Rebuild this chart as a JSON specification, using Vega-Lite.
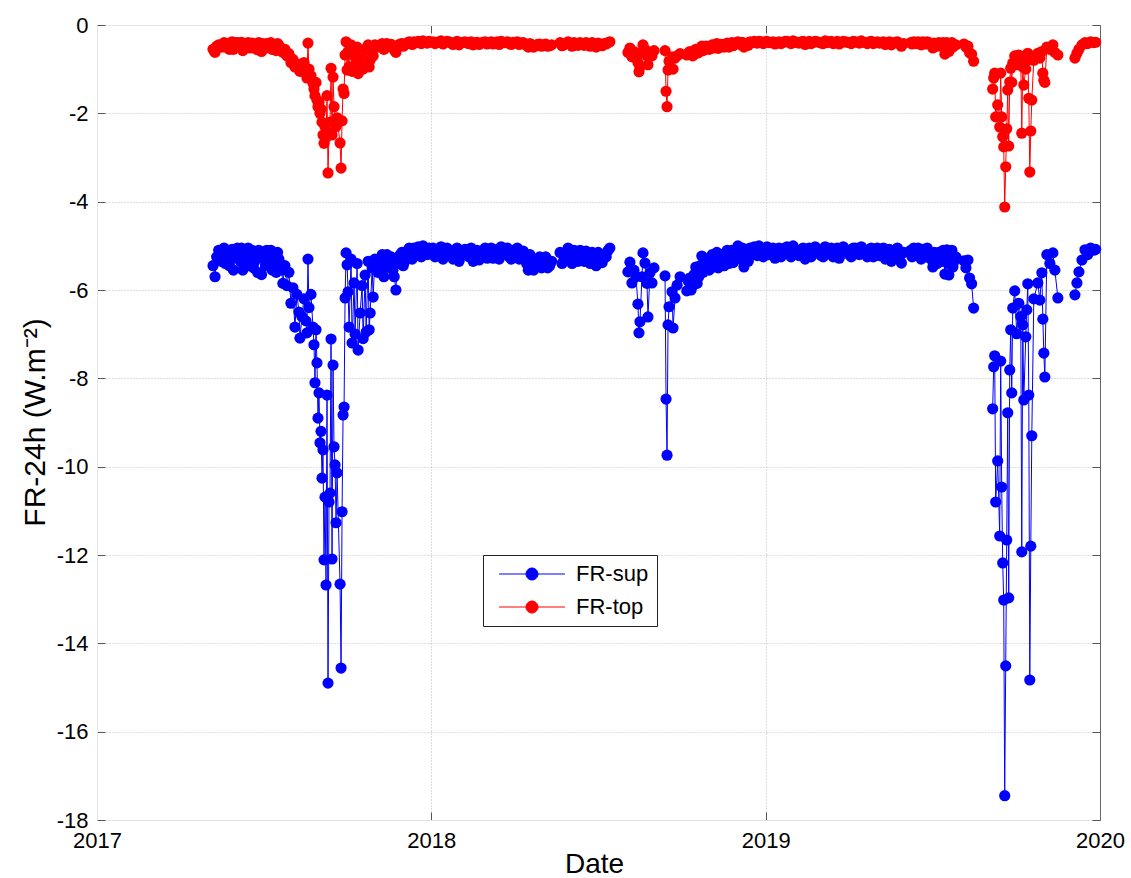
{
  "$schema": "https://vega.github.io/schema/vega-lite/v6.json",
  "width": 1003,
  "height": 795,
  "autosize": "none",
  "padding": {"left": 97, "top": 25, "right": 31, "bottom": 58},
  "background": "white",
  "config": {"view": {"stroke": null}, "font": "Liberation Sans"},
  "data": {"values": [
    {"t":2017.347,"sup":-5.45,"top":-0.55},{"t":2017.353,"sup":-5.70,"top":-0.62},{"t":2017.358,"sup":-5.25,"top":-0.48},
    {"t":2017.364,"sup":-5.10,"top":-0.45},{"t":2017.372,"sup":-5.35,"top":-0.50},{"t":2017.380,"sup":-5.05,"top":-0.40},
    {"t":2017.388,"sup":-5.30,"top":-0.45},{"t":2017.396,"sup":-5.45,"top":-0.55},{"t":2017.404,"sup":-5.08,"top":-0.38},
    {"t":2017.412,"sup":-5.20,"top":-0.42},{"t":2017.420,"sup":-5.05,"top":-0.40},{"t":2017.428,"sup":-5.35,"top":-0.48},
    {"t":2017.436,"sup":-5.55,"top":-0.58},{"t":2017.444,"sup":-5.15,"top":-0.42},{"t":2017.452,"sup":-5.05,"top":-0.40},
    {"t":2017.460,"sup":-5.30,"top":-0.45},{"t":2017.468,"sup":-5.50,"top":-0.52},{"t":2017.476,"sup":-5.20,"top":-0.43},
    {"t":2017.484,"sup":-5.10,"top":-0.40},{"t":2017.492,"sup":-5.65,"top":-0.60},{"t":2017.500,"sup":-5.25,"top":-0.47},
    {"t":2017.508,"sup":-5.10,"top":-0.42},{"t":2017.516,"sup":-5.35,"top":-0.50},{"t":2017.524,"sup":-5.55,"top":-0.55},
    {"t":2017.532,"sup":-5.25,"top":-0.45},{"t":2017.540,"sup":-5.15,"top":-0.42},{"t":2017.548,"sup":-5.40,"top":-0.52},
    {"t":2017.556,"sup":-5.85,"top":-0.62},{"t":2017.562,"sup":-5.45,"top":-0.55},{"t":2017.568,"sup":-5.90,"top":-0.70},
    {"t":2017.574,"sup":-5.60,"top":-0.65},{"t":2017.580,"sup":-6.30,"top":-0.85},{"t":2017.586,"sup":-5.95,"top":-0.78},
    {"t":2017.592,"sup":-6.84,"top":-0.95},{"t":2017.598,"sup":-6.10,"top":-0.88},{"t":2017.604,"sup":-6.50,"top":-1.00},
    {"t":2017.607,"sup":-7.09,"top":-1.05},{"t":2017.613,"sup":-6.60,"top":-0.95},{"t":2017.619,"sup":-6.20,"top":-0.85},
    {"t":2017.625,"sup":-6.70,"top":-1.10},{"t":2017.628,"sup":-6.97,"top":-1.20},{"t":2017.631,"sup":-5.30,"top":-0.41},
    {"t":2017.634,"sup":-6.40,"top":-1.00},{"t":2017.640,"sup":-6.10,"top":-1.15},{"t":2017.646,"sup":-6.84,"top":-1.32},
    {"t":2017.649,"sup":-7.24,"top":-1.45},{"t":2017.652,"sup":-8.10,"top":-1.60},{"t":2017.655,"sup":-6.90,"top":-1.30},
    {"t":2017.658,"sup":-7.65,"top":-1.70},{"t":2017.661,"sup":-8.90,"top":-1.85},{"t":2017.664,"sup":-8.33,"top":-1.75},
    {"t":2017.667,"sup":-9.46,"top":-2.00},{"t":2017.670,"sup":-9.20,"top":-1.90},{"t":2017.673,"sup":-10.26,"top":-2.20},
    {"t":2017.676,"sup":-9.62,"top":-2.49},{"t":2017.679,"sup":-12.11,"top":-2.68},{"t":2017.682,"sup":-10.69,"top":-2.30},
    {"t":2017.685,"sup":-12.68,"top":-2.55},{"t":2017.688,"sup":-8.38,"top":-1.60},{"t":2017.691,"sup":-14.90,"top":-3.35},
    {"t":2017.694,"sup":-10.80,"top":-2.45},{"t":2017.697,"sup":-10.60,"top":-2.20},{"t":2017.700,"sup":-7.11,"top":-0.98},
    {"t":2017.703,"sup":-12.09,"top":-2.49},{"t":2017.706,"sup":-7.70,"top":-1.18},{"t":2017.709,"sup":-9.55,"top":-1.85},
    {"t":2017.712,"sup":-9.96,"top":-2.22},{"t":2017.715,"sup":-11.27,"top":-2.30},{"t":2017.718,"sup":-10.14,"top":-2.10},
    {"t":2017.727,"sup":-12.66,"top":-2.67},{"t":2017.730,"sup":-14.56,"top":-3.24},{"t":2017.733,"sup":-11.02,"top":-2.17},
    {"t":2017.736,"sup":-8.83,"top":-1.45},{"t":2017.739,"sup":-8.65,"top":-1.55},{"t":2017.742,"sup":-6.18,"top":-0.68},
    {"t":2017.745,"sup":-5.16,"top":-0.38},{"t":2017.748,"sup":-5.43,"top":-1.02},{"t":2017.751,"sup":-6.04,"top":-0.60},
    {"t":2017.754,"sup":-6.84,"top":-0.95},{"t":2017.760,"sup":-5.30,"top":-0.45},{"t":2017.763,"sup":-7.20,"top":-1.05},
    {"t":2017.769,"sup":-5.84,"top":-0.70},{"t":2017.772,"sup":-7.00,"top":-0.90},{"t":2017.778,"sup":-5.40,"top":-0.50},
    {"t":2017.781,"sup":-7.36,"top":-1.10},{"t":2017.787,"sup":-6.52,"top":-0.85},{"t":2017.793,"sup":-5.90,"top":-0.65},
    {"t":2017.796,"sup":-7.10,"top":-1.00},{"t":2017.802,"sup":-5.66,"top":-0.55},{"t":2017.805,"sup":-6.95,"top":-0.90},
    {"t":2017.811,"sup":-5.35,"top":-0.45},{"t":2017.814,"sup":-6.90,"top":-0.95},{"t":2017.817,"sup":-6.52,"top":-0.80},
    {"t":2017.823,"sup":-5.50,"top":-0.50},{"t":2017.826,"sup":-6.16,"top":-0.70},{"t":2017.831,"sup":-5.30,"top":-0.45},
    {"t":2017.840,"sup":-5.60,"top":-0.50},{"t":2017.849,"sup":-5.35,"top":-0.45},{"t":2017.858,"sup":-5.70,"top":-0.55},
    {"t":2017.867,"sup":-5.20,"top":-0.42},{"t":2017.876,"sup":-5.45,"top":-0.48},{"t":2017.885,"sup":-5.55,"top":-0.50},
    {"t":2017.894,"sup":-6.00,"top":-0.62},{"t":2017.903,"sup":-5.30,"top":-0.45},{"t":2017.912,"sup":-5.15,"top":-0.42},
    {"t":2017.921,"sup":-5.35,"top":-0.45},{"t":2017.930,"sup":-5.10,"top":-0.40},{"t":2017.939,"sup":-5.25,"top":-0.42},
    {"t":2017.948,"sup":-5.05,"top":-0.38},{"t":2017.957,"sup":-5.20,"top":-0.40},{"t":2017.966,"sup":-5.10,"top":-0.38},
    {"t":2017.975,"sup":-5.00,"top":-0.36},{"t":2017.984,"sup":-5.15,"top":-0.40},{"t":2017.993,"sup":-5.05,"top":-0.37},
    {"t":2018.005,"sup":-5.05,"top":-0.38},{"t":2018.017,"sup":-5.15,"top":-0.40},{"t":2018.029,"sup":-5.02,"top":-0.36},
    {"t":2018.041,"sup":-5.20,"top":-0.40},{"t":2018.053,"sup":-5.10,"top":-0.38},{"t":2018.065,"sup":-5.30,"top":-0.44},
    {"t":2018.077,"sup":-5.05,"top":-0.37},{"t":2018.089,"sup":-5.18,"top":-0.40},{"t":2018.101,"sup":-5.08,"top":-0.38},
    {"t":2018.113,"sup":-5.25,"top":-0.42},{"t":2018.125,"sup":-5.35,"top":-0.45},{"t":2018.137,"sup":-5.10,"top":-0.39},
    {"t":2018.149,"sup":-5.20,"top":-0.41},{"t":2018.161,"sup":-5.05,"top":-0.38},{"t":2018.173,"sup":-5.15,"top":-0.40},
    {"t":2018.185,"sup":-5.28,"top":-0.43},{"t":2018.197,"sup":-5.08,"top":-0.38},{"t":2018.209,"sup":-5.02,"top":-0.37},
    {"t":2018.221,"sup":-5.15,"top":-0.40},{"t":2018.233,"sup":-5.25,"top":-0.42},{"t":2018.245,"sup":-5.10,"top":-0.39},
    {"t":2018.257,"sup":-5.05,"top":-0.38},{"t":2018.269,"sup":-5.20,"top":-0.41},{"t":2018.281,"sup":-5.30,"top":-0.44},
    {"t":2018.290,"sup":-5.55,"top":-0.50},{"t":2018.300,"sup":-5.35,"top":-0.45},{"t":2018.312,"sup":-5.45,"top":-0.47},
    {"t":2018.324,"sup":-5.25,"top":-0.43},{"t":2018.336,"sup":-5.40,"top":-0.46},{"t":2018.348,"sup":-5.50,"top":-0.48},
    {"t":2018.360,"sup":-5.35,"top":-0.45},
    {"t":2018.372,"sup":null,"top":null},
    {"t":2018.385,"sup":-5.15,"top":-0.40},{"t":2018.397,"sup":-5.30,"top":-0.45},{"t":2018.409,"sup":-5.05,"top":-0.38},
    {"t":2018.421,"sup":-5.40,"top":-0.48},{"t":2018.433,"sup":-5.20,"top":-0.42},{"t":2018.445,"sup":-5.10,"top":-0.40},
    {"t":2018.457,"sup":-5.35,"top":-0.46},{"t":2018.469,"sup":-5.25,"top":-0.44},{"t":2018.481,"sup":-5.15,"top":-0.40},
    {"t":2018.493,"sup":-5.45,"top":-0.50},{"t":2018.505,"sup":-5.30,"top":-0.46},{"t":2018.517,"sup":-5.20,"top":-0.42},
    {"t":2018.529,"sup":-5.10,"top":-0.40},{"t":2018.534,"sup":-5.05,"top":-0.38},
    {"t":2018.560,"sup":null,"top":null},
    {"t":2018.588,"sup":-5.59,"top":-0.62},{"t":2018.594,"sup":-5.37,"top":-0.52},{"t":2018.600,"sup":-5.84,"top":-0.72},
    {"t":2018.606,"sup":-5.55,"top":-0.60},{"t":2018.612,"sup":-5.70,"top":-0.68},{"t":2018.618,"sup":-6.32,"top":-0.85},
    {"t":2018.621,"sup":-6.97,"top":-1.06},{"t":2018.624,"sup":-6.72,"top":-0.95},{"t":2018.630,"sup":-5.70,"top":-0.62},
    {"t":2018.633,"sup":-5.16,"top":-0.45},{"t":2018.639,"sup":-5.39,"top":-0.55},{"t":2018.645,"sup":-5.85,"top":-0.70},
    {"t":2018.648,"sup":-6.61,"top":-0.90},{"t":2018.654,"sup":-5.61,"top":-0.62},{"t":2018.660,"sup":-5.84,"top":-0.70},
    {"t":2018.666,"sup":-5.50,"top":-0.58},
    {"t":2018.681,"sup":null,"top":null},
    {"t":2018.699,"sup":-5.68,"top":-0.58},{"t":2018.702,"sup":-8.47,"top":-1.50},{"t":2018.705,"sup":-9.74,"top":-1.85},
    {"t":2018.708,"sup":-6.79,"top":-1.02},{"t":2018.711,"sup":-6.38,"top":-0.82},{"t":2018.720,"sup":-6.04,"top":-0.72},
    {"t":2018.723,"sup":-6.86,"top":-1.00},{"t":2018.729,"sup":-6.18,"top":-0.75},{"t":2018.735,"sup":-5.89,"top":-0.70},
    {"t":2018.744,"sup":-5.70,"top":-0.65},
    {"t":2018.754,"sup":null,"top":null},
    {"t":2018.764,"sup":-6.02,"top":-0.68},{"t":2018.773,"sup":-5.73,"top":-0.60},{"t":2018.782,"sup":-5.90,"top":-0.70},
    {"t":2018.791,"sup":-5.48,"top":-0.55},{"t":2018.800,"sup":-5.70,"top":-0.62},{"t":2018.809,"sup":-5.23,"top":-0.48},
    {"t":2018.818,"sup":-5.55,"top":-0.55},{"t":2018.827,"sup":-5.40,"top":-0.50},{"t":2018.836,"sup":-5.30,"top":-0.48},
    {"t":2018.845,"sup":-5.48,"top":-0.52},{"t":2018.854,"sup":-5.15,"top":-0.42},{"t":2018.863,"sup":-5.35,"top":-0.48},
    {"t":2018.872,"sup":-5.28,"top":-0.45},{"t":2018.881,"sup":-5.20,"top":-0.43},{"t":2018.890,"sup":-5.40,"top":-0.50},
    {"t":2018.899,"sup":-5.10,"top":-0.40},{"t":2018.908,"sup":-5.25,"top":-0.43},{"t":2018.917,"sup":-5.00,"top":-0.38},
    {"t":2018.926,"sup":-5.30,"top":-0.45},{"t":2018.935,"sup":-5.48,"top":-0.50},{"t":2018.944,"sup":-5.15,"top":-0.42},
    {"t":2018.953,"sup":-5.05,"top":-0.38},{"t":2018.962,"sup":-5.20,"top":-0.40},{"t":2018.971,"sup":-5.10,"top":-0.40},
    {"t":2018.980,"sup":-5.00,"top":-0.37},{"t":2018.989,"sup":-5.15,"top":-0.40},{"t":2018.998,"sup":-5.08,"top":-0.38},
    {"t":2019.010,"sup":-5.20,"top":-0.40},{"t":2019.022,"sup":-5.05,"top":-0.38},{"t":2019.034,"sup":-5.15,"top":-0.40},
    {"t":2019.046,"sup":-5.25,"top":-0.42},{"t":2019.058,"sup":-5.05,"top":-0.37},{"t":2019.070,"sup":-5.12,"top":-0.39},
    {"t":2019.082,"sup":-5.00,"top":-0.36},{"t":2019.094,"sup":-5.18,"top":-0.40},{"t":2019.106,"sup":-5.10,"top":-0.38},
    {"t":2019.118,"sup":-5.30,"top":-0.44},{"t":2019.130,"sup":-5.05,"top":-0.37},{"t":2019.142,"sup":-5.15,"top":-0.40},
    {"t":2019.154,"sup":-5.08,"top":-0.38},{"t":2019.166,"sup":-5.22,"top":-0.41},{"t":2019.178,"sup":-5.02,"top":-0.36},
    {"t":2019.190,"sup":-5.10,"top":-0.38},{"t":2019.202,"sup":-5.25,"top":-0.42},{"t":2019.214,"sup":-5.05,"top":-0.37},
    {"t":2019.226,"sup":-5.15,"top":-0.40},{"t":2019.238,"sup":-5.08,"top":-0.38},{"t":2019.250,"sup":-5.20,"top":-0.40},
    {"t":2019.262,"sup":-5.05,"top":-0.37},{"t":2019.274,"sup":-5.12,"top":-0.39},{"t":2019.286,"sup":-5.02,"top":-0.36},
    {"t":2019.298,"sup":-5.18,"top":-0.40},{"t":2019.310,"sup":-5.08,"top":-0.38},{"t":2019.322,"sup":-5.25,"top":-0.42},
    {"t":2019.334,"sup":-5.05,"top":-0.38},{"t":2019.346,"sup":-5.15,"top":-0.40},{"t":2019.358,"sup":-5.30,"top":-0.44},
    {"t":2019.370,"sup":-5.08,"top":-0.38},{"t":2019.382,"sup":-5.20,"top":-0.41},{"t":2019.394,"sup":-5.05,"top":-0.38},
    {"t":2019.406,"sup":-5.39,"top":-0.48},{"t":2019.413,"sup":-5.15,"top":-0.42},
    {"t":2019.423,"sup":null,"top":null},
    {"t":2019.434,"sup":-5.10,"top":-0.40},{"t":2019.443,"sup":-5.05,"top":-0.38},{"t":2019.452,"sup":-5.20,"top":-0.42},
    {"t":2019.461,"sup":-5.14,"top":-0.40},{"t":2019.470,"sup":-5.08,"top":-0.38},{"t":2019.479,"sup":-5.25,"top":-0.43},
    {"t":2019.488,"sup":-5.15,"top":-0.40},{"t":2019.500,"sup":-5.48,"top":-0.52},{"t":2019.509,"sup":-5.30,"top":-0.45},
    {"t":2019.518,"sup":-5.15,"top":-0.40},{"t":2019.527,"sup":-5.35,"top":-0.48},{"t":2019.536,"sup":-5.64,"top":-0.66},
    {"t":2019.542,"sup":-5.09,"top":-0.40},{"t":2019.548,"sup":-5.66,"top":-0.60},{"t":2019.554,"sup":-5.20,"top":-0.42},
    {"t":2019.560,"sup":-5.48,"top":-0.50},{"t":2019.569,"sup":-5.25,"top":-0.45},
    {"t":2019.581,"sup":null,"top":null},
    {"t":2019.593,"sup":-5.34,"top":-0.43},{"t":2019.599,"sup":-5.50,"top":-0.50},{"t":2019.605,"sup":-5.32,"top":-0.48},
    {"t":2019.610,"sup":-5.73,"top":-0.63},{"t":2019.616,"sup":-5.86,"top":-0.66},{"t":2019.622,"sup":-6.41,"top":-0.82},
    {"t":2019.650,"sup":null,"top":null},
    {"t":2019.679,"sup":-8.69,"top":-1.45},{"t":2019.682,"sup":-7.74,"top":-1.20},{"t":2019.685,"sup":-7.49,"top":-1.09},
    {"t":2019.688,"sup":-10.80,"top":-2.08},{"t":2019.694,"sup":-9.87,"top":-1.81},{"t":2019.700,"sup":-11.57,"top":-2.31},
    {"t":2019.703,"sup":-7.61,"top":-1.09},{"t":2019.706,"sup":-10.46,"top":-2.08},{"t":2019.709,"sup":-12.18,"top":-2.53},
    {"t":2019.712,"sup":-13.02,"top":-2.76},{"t":2019.715,"sup":-17.45,"top":-4.12},{"t":2019.718,"sup":-14.51,"top":-3.21},
    {"t":2019.721,"sup":-11.66,"top":-2.35},{"t":2019.724,"sup":-8.78,"top":-1.47},{"t":2019.727,"sup":-12.97,"top":-2.74},
    {"t":2019.730,"sup":-7.81,"top":-1.29},{"t":2019.733,"sup":-6.90,"top":-0.98},{"t":2019.736,"sup":-8.33,"top":-1.30},
    {"t":2019.739,"sup":-6.41,"top":-0.86},{"t":2019.745,"sup":-6.02,"top":-0.70},{"t":2019.751,"sup":-6.99,"top":-0.90},
    {"t":2019.757,"sup":-6.30,"top":-0.68},{"t":2019.763,"sup":-6.60,"top":-0.80},{"t":2019.766,"sup":-11.93,"top":-2.45},
    {"t":2019.769,"sup":-6.79,"top":-0.95},{"t":2019.772,"sup":-8.49,"top":-1.36},{"t":2019.778,"sup":-7.06,"top":-1.00},
    {"t":2019.781,"sup":-6.45,"top":-0.80},{"t":2019.784,"sup":-5.86,"top":-0.64},{"t":2019.787,"sup":-8.38,"top":-1.66},
    {"t":2019.790,"sup":-14.83,"top":-3.33},{"t":2019.793,"sup":-11.80,"top":-2.40},{"t":2019.796,"sup":-9.30,"top":-1.70},
    {"t":2019.802,"sup":-6.20,"top":-0.80},{"t":2019.814,"sup":-5.84,"top":-0.64},{"t":2019.820,"sup":-6.23,"top":-0.75},
    {"t":2019.826,"sup":-5.61,"top":-0.60},{"t":2019.829,"sup":-6.66,"top":-1.09},{"t":2019.832,"sup":-7.43,"top":-1.25},
    {"t":2019.835,"sup":-7.97,"top":-1.30},{"t":2019.841,"sup":-5.20,"top":-0.50},{"t":2019.850,"sup":-5.40,"top":-0.55},
    {"t":2019.859,"sup":-5.16,"top":-0.45},{"t":2019.865,"sup":-5.55,"top":-0.62},{"t":2019.874,"sup":-6.18,"top":-0.68},
    {"t":2019.900,"sup":null,"top":null},
    {"t":2019.925,"sup":-6.11,"top":-0.75},{"t":2019.931,"sup":-5.84,"top":-0.64},{"t":2019.937,"sup":-5.59,"top":-0.55},
    {"t":2019.946,"sup":-5.32,"top":-0.45},{"t":2019.955,"sup":-5.09,"top":-0.40},{"t":2019.963,"sup":-5.20,"top":-0.42},
    {"t":2019.972,"sup":-5.05,"top":-0.38},{"t":2019.981,"sup":-5.10,"top":-0.40},{"t":2019.987,"sup":-5.08,"top":-0.39},

    {"t":2017.376,"sup":-5.20,"top":-0.44},{"t":2017.384,"sup":-5.40,"top":-0.50},{"t":2017.392,"sup":-5.15,"top":-0.42},
    {"t":2017.400,"sup":-5.30,"top":-0.47},{"t":2017.408,"sup":-5.55,"top":-0.55},{"t":2017.416,"sup":-5.10,"top":-0.40},
    {"t":2017.424,"sup":-5.25,"top":-0.45},{"t":2017.432,"sup":-5.05,"top":-0.39},{"t":2017.440,"sup":-5.40,"top":-0.50},
    {"t":2017.448,"sup":-5.25,"top":-0.44},{"t":2017.456,"sup":-5.45,"top":-0.52},{"t":2017.464,"sup":-5.10,"top":-0.41},
    {"t":2017.472,"sup":-5.35,"top":-0.48},{"t":2017.480,"sup":-5.60,"top":-0.56},{"t":2017.488,"sup":-5.25,"top":-0.45},
    {"t":2017.496,"sup":-5.15,"top":-0.42},{"t":2017.504,"sup":-5.45,"top":-0.52},{"t":2017.512,"sup":-5.20,"top":-0.43},
    {"t":2017.520,"sup":-5.10,"top":-0.40},{"t":2017.528,"sup":-5.40,"top":-0.50},{"t":2017.536,"sup":-5.60,"top":-0.58},
    {"t":2017.544,"sup":-5.30,"top":-0.46},{"t":2017.552,"sup":-5.55,"top":-0.55},
    {"t":2017.844,"sup":-5.45,"top":-0.48},{"t":2017.853,"sup":-5.20,"top":-0.42},{"t":2017.862,"sup":-5.50,"top":-0.52},
    {"t":2017.871,"sup":-5.35,"top":-0.46},{"t":2017.880,"sup":-5.25,"top":-0.44},{"t":2017.889,"sup":-5.70,"top":-0.56},
    {"t":2017.898,"sup":-5.40,"top":-0.47},{"t":2017.907,"sup":-5.20,"top":-0.43},{"t":2017.916,"sup":-5.45,"top":-0.48},
    {"t":2017.925,"sup":-5.25,"top":-0.42},{"t":2017.934,"sup":-5.05,"top":-0.38},{"t":2017.943,"sup":-5.30,"top":-0.44},
    {"t":2017.952,"sup":-5.15,"top":-0.40},{"t":2017.961,"sup":-5.02,"top":-0.37},{"t":2017.970,"sup":-5.25,"top":-0.42},
    {"t":2017.979,"sup":-5.10,"top":-0.39},{"t":2017.988,"sup":-5.20,"top":-0.41},{"t":2017.999,"sup":-5.12,"top":-0.39},
    {"t":2018.011,"sup":-5.25,"top":-0.42},{"t":2018.023,"sup":-5.08,"top":-0.38},{"t":2018.035,"sup":-5.30,"top":-0.43},
    {"t":2018.047,"sup":-5.05,"top":-0.37},{"t":2018.059,"sup":-5.20,"top":-0.41},{"t":2018.071,"sup":-5.12,"top":-0.39},
    {"t":2018.083,"sup":-5.35,"top":-0.45},{"t":2018.095,"sup":-5.10,"top":-0.39},{"t":2018.107,"sup":-5.22,"top":-0.41},
    {"t":2018.119,"sup":-5.05,"top":-0.38},{"t":2018.131,"sup":-5.20,"top":-0.41},{"t":2018.143,"sup":-5.32,"top":-0.44},
    {"t":2018.155,"sup":-5.12,"top":-0.39},{"t":2018.167,"sup":-5.28,"top":-0.43},{"t":2018.179,"sup":-5.05,"top":-0.38},
    {"t":2018.191,"sup":-5.20,"top":-0.41},{"t":2018.203,"sup":-5.30,"top":-0.44},{"t":2018.215,"sup":-5.10,"top":-0.39},
    {"t":2018.227,"sup":-5.05,"top":-0.38},{"t":2018.239,"sup":-5.30,"top":-0.44},{"t":2018.251,"sup":-5.18,"top":-0.40},
    {"t":2018.263,"sup":-5.30,"top":-0.44},{"t":2018.275,"sup":-5.12,"top":-0.40},{"t":2018.285,"sup":-5.40,"top":-0.46},
    {"t":2018.295,"sup":-5.20,"top":-0.42},{"t":2018.306,"sup":-5.55,"top":-0.50},{"t":2018.318,"sup":-5.30,"top":-0.44},
    {"t":2018.330,"sup":-5.50,"top":-0.48},{"t":2018.342,"sup":-5.25,"top":-0.43},{"t":2018.354,"sup":-5.45,"top":-0.47},
    {"t":2018.391,"sup":-5.40,"top":-0.47},{"t":2018.403,"sup":-5.20,"top":-0.42},{"t":2018.415,"sup":-5.25,"top":-0.43},
    {"t":2018.427,"sup":-5.10,"top":-0.40},{"t":2018.439,"sup":-5.35,"top":-0.46},{"t":2018.451,"sup":-5.22,"top":-0.42},
    {"t":2018.463,"sup":-5.12,"top":-0.40},{"t":2018.475,"sup":-5.40,"top":-0.48},{"t":2018.487,"sup":-5.25,"top":-0.43},
    {"t":2018.499,"sup":-5.15,"top":-0.41},{"t":2018.511,"sup":-5.38,"top":-0.47},{"t":2018.523,"sup":-5.25,"top":-0.43},
    {"t":2018.768,"sup":-5.80,"top":-0.64},{"t":2018.777,"sup":-6.00,"top":-0.66},{"t":2018.786,"sup":-5.65,"top":-0.60},
    {"t":2018.795,"sup":-5.85,"top":-0.64},{"t":2018.804,"sup":-5.45,"top":-0.54},{"t":2018.813,"sup":-5.60,"top":-0.58},
    {"t":2018.822,"sup":-5.30,"top":-0.48},{"t":2018.831,"sup":-5.55,"top":-0.55},{"t":2018.840,"sup":-5.20,"top":-0.45},
    {"t":2018.849,"sup":-5.35,"top":-0.48},{"t":2018.858,"sup":-5.50,"top":-0.53},{"t":2018.867,"sup":-5.20,"top":-0.44},
    {"t":2018.876,"sup":-5.45,"top":-0.50},{"t":2018.885,"sup":-5.10,"top":-0.41},{"t":2018.894,"sup":-5.25,"top":-0.44},
    {"t":2018.903,"sup":-5.38,"top":-0.47},{"t":2018.912,"sup":-5.12,"top":-0.40},{"t":2018.921,"sup":-5.20,"top":-0.42},
    {"t":2018.930,"sup":-5.05,"top":-0.39},{"t":2018.939,"sup":-5.25,"top":-0.43},{"t":2018.948,"sup":-5.35,"top":-0.46},
    {"t":2018.957,"sup":-5.10,"top":-0.40},{"t":2018.966,"sup":-5.02,"top":-0.37},{"t":2018.975,"sup":-5.22,"top":-0.41},
    {"t":2018.984,"sup":-5.08,"top":-0.38},{"t":2018.993,"sup":-5.25,"top":-0.42},{"t":2019.004,"sup":-5.02,"top":-0.37},
    {"t":2019.016,"sup":-5.15,"top":-0.40},{"t":2019.028,"sup":-5.28,"top":-0.43},{"t":2019.040,"sup":-5.05,"top":-0.38},
    {"t":2019.052,"sup":-5.18,"top":-0.40},{"t":2019.064,"sup":-5.02,"top":-0.37},{"t":2019.076,"sup":-5.25,"top":-0.42},
    {"t":2019.088,"sup":-5.08,"top":-0.38},{"t":2019.100,"sup":-5.22,"top":-0.41},{"t":2019.112,"sup":-5.05,"top":-0.37},
    {"t":2019.124,"sup":-5.15,"top":-0.40},{"t":2019.136,"sup":-5.25,"top":-0.42},{"t":2019.148,"sup":-5.02,"top":-0.37},
    {"t":2019.160,"sup":-5.12,"top":-0.39},{"t":2019.172,"sup":-5.25,"top":-0.42},{"t":2019.184,"sup":-5.15,"top":-0.40},
    {"t":2019.196,"sup":-5.05,"top":-0.37},{"t":2019.208,"sup":-5.18,"top":-0.40},{"t":2019.220,"sup":-5.28,"top":-0.43},
    {"t":2019.232,"sup":-5.02,"top":-0.37},{"t":2019.244,"sup":-5.12,"top":-0.39},{"t":2019.256,"sup":-5.25,"top":-0.42},
    {"t":2019.268,"sup":-5.05,"top":-0.38},{"t":2019.280,"sup":-5.20,"top":-0.41},{"t":2019.292,"sup":-5.10,"top":-0.39},
    {"t":2019.304,"sup":-5.25,"top":-0.42},{"t":2019.316,"sup":-5.05,"top":-0.37},{"t":2019.328,"sup":-5.15,"top":-0.40},
    {"t":2019.340,"sup":-5.22,"top":-0.41},{"t":2019.352,"sup":-5.05,"top":-0.38},{"t":2019.364,"sup":-5.20,"top":-0.41},
    {"t":2019.376,"sup":-5.35,"top":-0.45},{"t":2019.388,"sup":-5.12,"top":-0.39},{"t":2019.400,"sup":-5.25,"top":-0.43},
    {"t":2019.438,"sup":-5.25,"top":-0.43},{"t":2019.447,"sup":-5.15,"top":-0.40},{"t":2019.456,"sup":-5.05,"top":-0.38},
    {"t":2019.465,"sup":-5.30,"top":-0.45},{"t":2019.474,"sup":-5.20,"top":-0.42},{"t":2019.483,"sup":-5.05,"top":-0.38},
    {"t":2019.494,"sup":-5.30,"top":-0.45},{"t":2019.504,"sup":-5.15,"top":-0.41},{"t":2019.513,"sup":-5.40,"top":-0.48},
    {"t":2019.522,"sup":-5.22,"top":-0.42},{"t":2019.531,"sup":-5.10,"top":-0.40},{"t":2019.545,"sup":-5.40,"top":-0.50},
    {"t":2019.551,"sup":-5.30,"top":-0.45},{"t":2019.557,"sup":-5.10,"top":-0.40},{"t":2019.564,"sup":-5.35,"top":-0.46}
  ]},
  "transform": [{"fold": ["sup", "top"], "as": ["k", "v"]}],
  "encoding": {
    "color": {
      "field": "k",
      "type": "nominal",
      "scale": {"domain": ["sup", "top"], "range": ["#0000ff", "#ff0000"]},
      "legend": {
        "orient": "none",
        "legendX": 386,
        "legendY": 530,
        "title": null,
        "fillColor": "white",
        "strokeColor": "#222222",
        "padding": 8,
        "labelFont": "Liberation Sans",
        "labelFontSize": 22,
        "labelColor": "black",
        "symbolType": "M-3.3,0H3.3M0.6,0A0.6,0.6 0 1 1 -0.6,0A0.6,0.6 0 1 1 0.6,0Z",
        "symbolSize": 400,
        "symbolStrokeWidth": 1,
        "symbolOffset": 30,
        "labelOffset": 33,
        "rowPadding": 11,
        "labelExpr": "datum.label == 'sup' ? 'FR-sup' : 'FR-top'"
      }
    }
  },
  "layer": [
    {
      "mark": {"type": "line", "strokeWidth": 1, "invalid": "break-paths-filter-domains"},
      "encoding": {
        "x": {
          "field": "t", "type": "quantitative",
          "scale": {"domain": [2017, 2020], "nice": false, "zero": false},
          "axis": {
            "orient": "bottom", "values": [2017, 2018, 2019, 2020], "format": "d",
            "title": "Date", "titleFont": "Liberation Sans", "titleFontSize": 28, "titleFontWeight": "normal",
            "titleColor": "black", "titleX": 497, "titleY": 58, "titleAlign": "center", "titleBaseline": "bottom",
            "labelFont": "Liberation Sans", "labelFontSize": 22, "labelColor": "black", "labelPadding": 18,
            "labelFlush": false, "tickSize": -8, "tickColor": "#555555",
            "domainColor": "#e4e4e4", "grid": true, "gridColor": "#bdbdbd", "gridDash": [1, 2]
          }
        },
        "y": {
          "field": "v", "type": "quantitative",
          "scale": {"domain": [-18, 0], "nice": false, "zero": false},
          "axis": {
            "orient": "left", "values": [-18, -16, -14, -12, -10, -8, -6, -4, -2, 0],
            "labelExpr": "replace(datum.label, '−', '-')",
            "title": "FR-24h (W.m⁻²)", "titleFont": "Liberation Sans", "titleFontSize": 30, "titleFontWeight": "normal",
            "titleColor": "black", "titleX": -62, "titleY": 397, "titleAngle": -90, "titleAlign": "center", "titleBaseline": "middle",
            "labelFont": "Liberation Sans", "labelFontSize": 22, "labelColor": "black", "labelPadding": 17,
            "labelFlush": false, "tickSize": -8, "tickColor": "#555555",
            "domainColor": "#e4e4e4", "grid": true, "gridColor": "#bdbdbd", "gridDash": [1, 2]
          }
        }
      }
    },
    {
      "mark": {"type": "point", "filled": true, "size": 125, "opacity": 1},
      "encoding": {
        "x": {
          "field": "t", "type": "quantitative",
          "axis": {"orient": "top", "values": [2017, 2018, 2019, 2020], "labels": false, "title": null, "grid": false,
                   "tickSize": -8, "tickColor": "#555555", "domainColor": "#e4e4e4"}
        },
        "y": {
          "field": "v", "type": "quantitative",
          "axis": {"orient": "right", "values": [-18, -16, -14, -12, -10, -8, -6, -4, -2, 0], "labels": false, "title": null,
                   "grid": false, "tickSize": -8, "tickColor": "#555555", "domainColor": "#666666"}
        }
      }
    }
  ],
  "resolve": {"axis": {"x": "independent", "y": "independent"}}
}
